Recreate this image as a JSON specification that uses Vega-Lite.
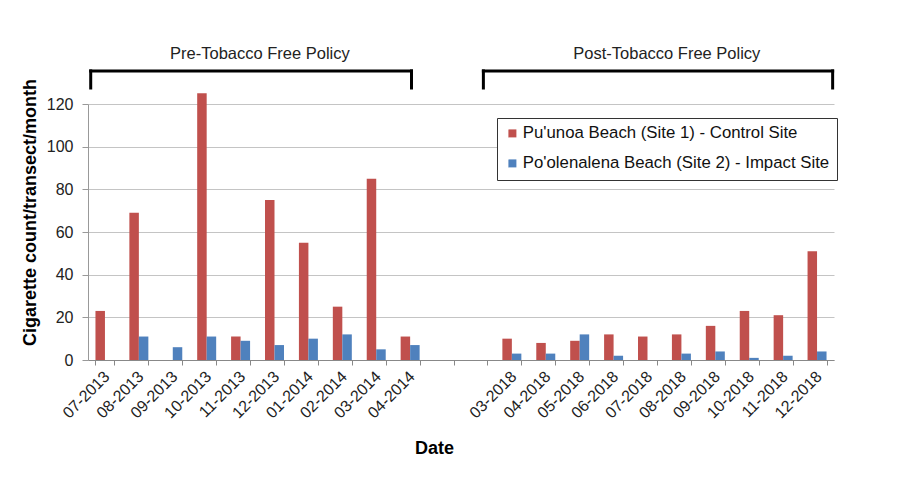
{
  "$schema": "https://vega.github.io/schema/vega-lite/v6.json",
  "width": 746,
  "height": 256,
  "autosize": {"type": "none"},
  "padding": {"left": 88, "top": 104, "right": 69, "bottom": 118},
  "background": "white",
  "config": {"font": "Liberation Sans", "view": {"stroke": null}},
  "layer": [
    {
      "data": {
        "values": [
          {"date": "07-2013", "site": "Pu'unoa Beach (Site 1) - Control Site", "count": 23},
          {"date": "07-2013", "site": "Po'olenalena Beach (Site 2) - Impact Site", "count": 0},
          {"date": "08-2013", "site": "Pu'unoa Beach (Site 1) - Control Site", "count": 69},
          {"date": "08-2013", "site": "Po'olenalena Beach (Site 2) - Impact Site", "count": 11},
          {"date": "09-2013", "site": "Pu'unoa Beach (Site 1) - Control Site", "count": 0},
          {"date": "09-2013", "site": "Po'olenalena Beach (Site 2) - Impact Site", "count": 6},
          {"date": "10-2013", "site": "Pu'unoa Beach (Site 1) - Control Site", "count": 125},
          {"date": "10-2013", "site": "Po'olenalena Beach (Site 2) - Impact Site", "count": 11},
          {"date": "11-2013", "site": "Pu'unoa Beach (Site 1) - Control Site", "count": 11},
          {"date": "11-2013", "site": "Po'olenalena Beach (Site 2) - Impact Site", "count": 9},
          {"date": "12-2013", "site": "Pu'unoa Beach (Site 1) - Control Site", "count": 75},
          {"date": "12-2013", "site": "Po'olenalena Beach (Site 2) - Impact Site", "count": 7},
          {"date": "01-2014", "site": "Pu'unoa Beach (Site 1) - Control Site", "count": 55},
          {"date": "01-2014", "site": "Po'olenalena Beach (Site 2) - Impact Site", "count": 10},
          {"date": "02-2014", "site": "Pu'unoa Beach (Site 1) - Control Site", "count": 25},
          {"date": "02-2014", "site": "Po'olenalena Beach (Site 2) - Impact Site", "count": 12},
          {"date": "03-2014", "site": "Pu'unoa Beach (Site 1) - Control Site", "count": 85},
          {"date": "03-2014", "site": "Po'olenalena Beach (Site 2) - Impact Site", "count": 5},
          {"date": "04-2014", "site": "Pu'unoa Beach (Site 1) - Control Site", "count": 11},
          {"date": "04-2014", "site": "Po'olenalena Beach (Site 2) - Impact Site", "count": 7},
          {"date": "03-2018", "site": "Pu'unoa Beach (Site 1) - Control Site", "count": 10},
          {"date": "03-2018", "site": "Po'olenalena Beach (Site 2) - Impact Site", "count": 3},
          {"date": "04-2018", "site": "Pu'unoa Beach (Site 1) - Control Site", "count": 8},
          {"date": "04-2018", "site": "Po'olenalena Beach (Site 2) - Impact Site", "count": 3},
          {"date": "05-2018", "site": "Pu'unoa Beach (Site 1) - Control Site", "count": 9},
          {"date": "05-2018", "site": "Po'olenalena Beach (Site 2) - Impact Site", "count": 12},
          {"date": "06-2018", "site": "Pu'unoa Beach (Site 1) - Control Site", "count": 12},
          {"date": "06-2018", "site": "Po'olenalena Beach (Site 2) - Impact Site", "count": 2},
          {"date": "07-2018", "site": "Pu'unoa Beach (Site 1) - Control Site", "count": 11},
          {"date": "07-2018", "site": "Po'olenalena Beach (Site 2) - Impact Site", "count": 0},
          {"date": "08-2018", "site": "Pu'unoa Beach (Site 1) - Control Site", "count": 12},
          {"date": "08-2018", "site": "Po'olenalena Beach (Site 2) - Impact Site", "count": 3},
          {"date": "09-2018", "site": "Pu'unoa Beach (Site 1) - Control Site", "count": 16},
          {"date": "09-2018", "site": "Po'olenalena Beach (Site 2) - Impact Site", "count": 4},
          {"date": "10-2018", "site": "Pu'unoa Beach (Site 1) - Control Site", "count": 23},
          {"date": "10-2018", "site": "Po'olenalena Beach (Site 2) - Impact Site", "count": 1},
          {"date": "11-2018", "site": "Pu'unoa Beach (Site 1) - Control Site", "count": 21},
          {"date": "11-2018", "site": "Po'olenalena Beach (Site 2) - Impact Site", "count": 2},
          {"date": "12-2018", "site": "Pu'unoa Beach (Site 1) - Control Site", "count": 51},
          {"date": "12-2018", "site": "Po'olenalena Beach (Site 2) - Impact Site", "count": 4}
        ]
      },
      "mark": {"type": "bar"},
      "encoding": {
        "x": {
          "field": "date",
          "type": "nominal",
          "scale": {
            "domain": ["07-2013", "08-2013", "09-2013", "10-2013", "11-2013", "12-2013", "01-2014", "02-2014", "03-2014", "04-2014", " ", "  ", "03-2018", "04-2018", "05-2018", "06-2018", "07-2018", "08-2018", "09-2018", "10-2018", "11-2018", "12-2018"],
            "paddingInner": 0.44,
            "paddingOuter": 0.22
          },
          "axis": {
            "title": "Date",
            "titleFontSize": 18,
            "titleFontWeight": "bold",
            "titleColor": "#000",
            "titleX": 346,
            "titleY": 88,
            "titleAlign": "center",
            "titleBaseline": "middle",
            "labelAngle": -45,
            "labelFontSize": 16,
            "labelColor": "#222",
            "labelOffset": -4,
            "tickBand": "extent",
            "tickSize": 5,
            "tickColor": "#888",
            "domainColor": "#888",
            "labelPadding": 3,
            "grid": false
          }
        },
        "xOffset": {
          "field": "site",
          "type": "nominal",
          "scale": {
            "domain": ["Pu'unoa Beach (Site 1) - Control Site", "Po'olenalena Beach (Site 2) - Impact Site"],
            "paddingInner": 0,
            "paddingOuter": 0
          }
        },
        "y": {
          "field": "count",
          "type": "quantitative",
          "scale": {"domain": [0, 120]},
          "axis": {
            "title": "Cigarette count/transect/month",
            "titleFontSize": 18,
            "titleFontWeight": "bold",
            "titleColor": "#000",
            "titleX": -58,
            "titleY": 108,
            "titleAlign": "center",
            "titleBaseline": "middle",
            "values": [0, 20, 40, 60, 80, 100, 120],
            "labelFontSize": 16,
            "labelColor": "#222",
            "tickSize": 6,
            "tickColor": "#999",
            "domainColor": "#999",
            "gridColor": "#c4c4c4",
            "labelPadding": 9
          }
        },
        "color": {
          "field": "site",
          "type": "nominal",
          "scale": {
            "domain": ["Pu'unoa Beach (Site 1) - Control Site", "Po'olenalena Beach (Site 2) - Impact Site"],
            "range": ["#C0504D", "#4F81BD"]
          },
          "legend": {
            "title": null,
            "orient": "none",
            "legendX": 409,
            "legendY": 14,
            "direction": "vertical",
            "strokeColor": "#333",
            "fillColor": "white",
            "padding": 7,
            "symbolType": "square",
            "symbolSize": 64,
            "symbolStrokeWidth": 0,
            "labelFontSize": 16.8,
            "labelLimit": 0,
            "labelColor": "#111",
            "rowPadding": 12,
            "labelOffset": 2
          }
        }
      }
    },
    {
      "data": {
        "values": [
          {"period": "Pre-Tobacco Free Policy", "start": 0.08, "end": 9.54, "mid": 5.07},
          {"period": "Post-Tobacco Free Policy", "start": 11.66, "end": 21.96, "mid": 17.07}
        ]
      },
      "layer": [
        {
          "mark": {"type": "rule", "strokeWidth": 3, "color": "black", "strokeCap": "square"},
          "encoding": {
            "x": {"field": "start", "type": "quantitative", "scale": {"domain": [0, 22]}, "axis": null},
            "x2": {"field": "end"},
            "y": {"datum": 135.5}
          }
        },
        {
          "mark": {"type": "rule", "strokeWidth": 3, "color": "black", "strokeCap": "square"},
          "encoding": {
            "x": {"field": "start", "type": "quantitative", "scale": {"domain": [0, 22]}, "axis": null},
            "y": {"datum": 127.5},
            "y2": {"datum": 135.5}
          }
        },
        {
          "mark": {"type": "rule", "strokeWidth": 3, "color": "black", "strokeCap": "square"},
          "encoding": {
            "x": {"field": "end", "type": "quantitative", "scale": {"domain": [0, 22]}, "axis": null},
            "y": {"datum": 127.5},
            "y2": {"datum": 135.5}
          }
        },
        {
          "mark": {"type": "text", "fontSize": 16.5, "color": "#222"},
          "encoding": {
            "x": {"field": "mid", "type": "quantitative", "scale": {"domain": [0, 22]}, "axis": null},
            "y": {"datum": 143.5},
            "text": {"field": "period"}
          }
        }
      ]
    }
  ],
  "resolve": {"scale": {"x": "independent"}}
}
